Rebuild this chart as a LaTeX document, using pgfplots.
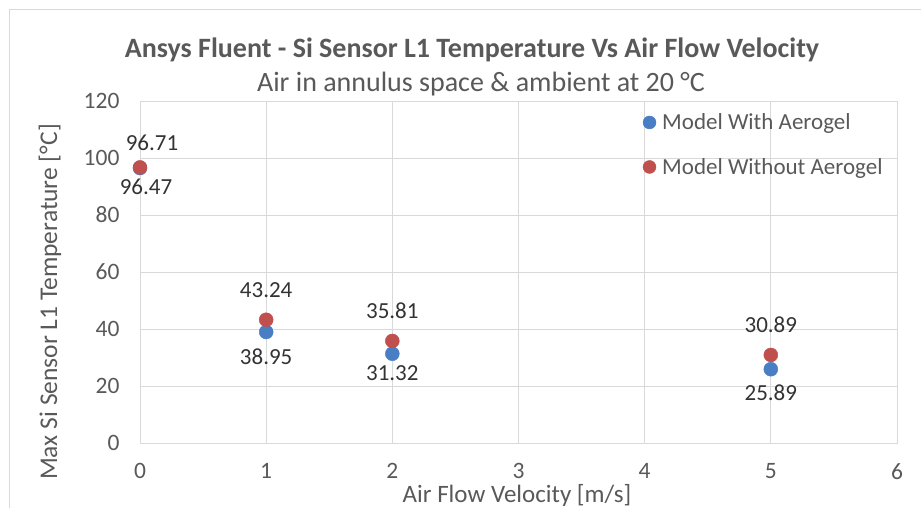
\documentclass[border=0pt]{standalone}
\usepackage{pgfplots}
\pgfplotsset{compat=1.18}
\usepackage{fontspec}
\setmainfont{Carlito}
\definecolor{cblue}{HTML}{4A7EC4}
\definecolor{cred}{HTML}{C0504D}
\definecolor{txt}{HTML}{595959}
\definecolor{gridc}{HTML}{D9D9D9}
\begin{document}
\begin{tikzpicture}[x=1pt,y=1pt]
\useasboundingbox (-140,-65) rectangle (781,443);
\draw[gridc,line width=1pt] (-130,-70) -- (-130,433) -- (790,433);
\begin{axis}[
  at={(0,0)}, anchor=origin,
  scale only axis, width=757pt, height=342pt,
  xmin=0, xmax=6, ymin=0, ymax=120,
  xtick={0,1,2,3,4,5,6}, ytick={0,20,40,60,80,100,120},
  grid=major, major grid style={gridc, line width=0.8pt},
  axis line style={gridc, line width=0.8pt},
  x axis line style={draw=gridc!80!gray},
  tick style={draw=none},
  ticklabel style={font=\fontsize{23.5}{28}\selectfont, text=txt},
  /pgf/number format/assume math mode=true,
  xticklabel style={yshift=-17pt},
  yticklabel style={xshift=-17pt},
  clip=false,
  legend style={at={(rel axis cs:0.66,0.975)}, anchor=north west, draw=none, fill=none,
    font=\fontsize{23}{27}\selectfont, text=txt, row sep=23pt,
    /tikz/every odd column/.append style={column sep=4pt}},
  legend cell align=left,
  legend image code/.code={\fill (0pt,0pt) circle (6.5pt);},
  nodes near coords style={font=\fontsize{23}{27}\selectfont, text=black!80},
]
\addplot[only marks, mark=*, mark size=7pt, color=cblue,
  point meta=explicit symbolic,
  visualization depends on={\thisrow{dx} \as \dx},
  visualization depends on={\thisrow{dy} \as \dy},
  nodes near coords, nodes near coords align={below},
  nodes near coords style={xshift=\dx pt, yshift=\dy pt}]
  table[meta=lab] {
x y lab dx dy
0 96.47 96.47 6 -7
1 38.95 38.95 0 -13
2 31.32 31.32 0 -8
5 25.89 25.89 0 -12
};
\addlegendentry{Model With Aerogel}
\addplot[only marks, mark=*, mark size=7pt, color=cred,
  point meta=explicit symbolic,
  visualization depends on={\thisrow{dx} \as \dx},
  visualization depends on={\thisrow{dy} \as \dy},
  nodes near coords, nodes near coords align={above},
  nodes near coords style={xshift=\dx pt, yshift=\dy pt}]
  table[meta=lab] {
x y lab dx dy
0 96.71 96.71 12 13.5
1 43.24 43.24 0 18.5
2 35.81 35.81 0 18.5
5 30.89 30.89 0 18.5
};
\addlegendentry{Model Without Aerogel}
\end{axis}
\node[font=\bfseries\fontsize{28}{33}\selectfont, text=txt] at (332,393) {Ansys Fluent - Si Sensor L1 Temperature Vs Air Flow Velocity};
\node[font=\fontsize{28}{33}\selectfont, text=txt] at (341,359) {Air in annulus space \& ambient at 20 °C};
\node[font=\fontsize{25}{30}\selectfont, text=txt] at (377,-52) {Air Flow Velocity [m/s]};
\node[font=\fontsize{25.5}{30}\selectfont, text=txt, rotate=90] at (-90,141) {Max Si Sensor L1 Temperature [°C]};
\end{tikzpicture}
\end{document}
